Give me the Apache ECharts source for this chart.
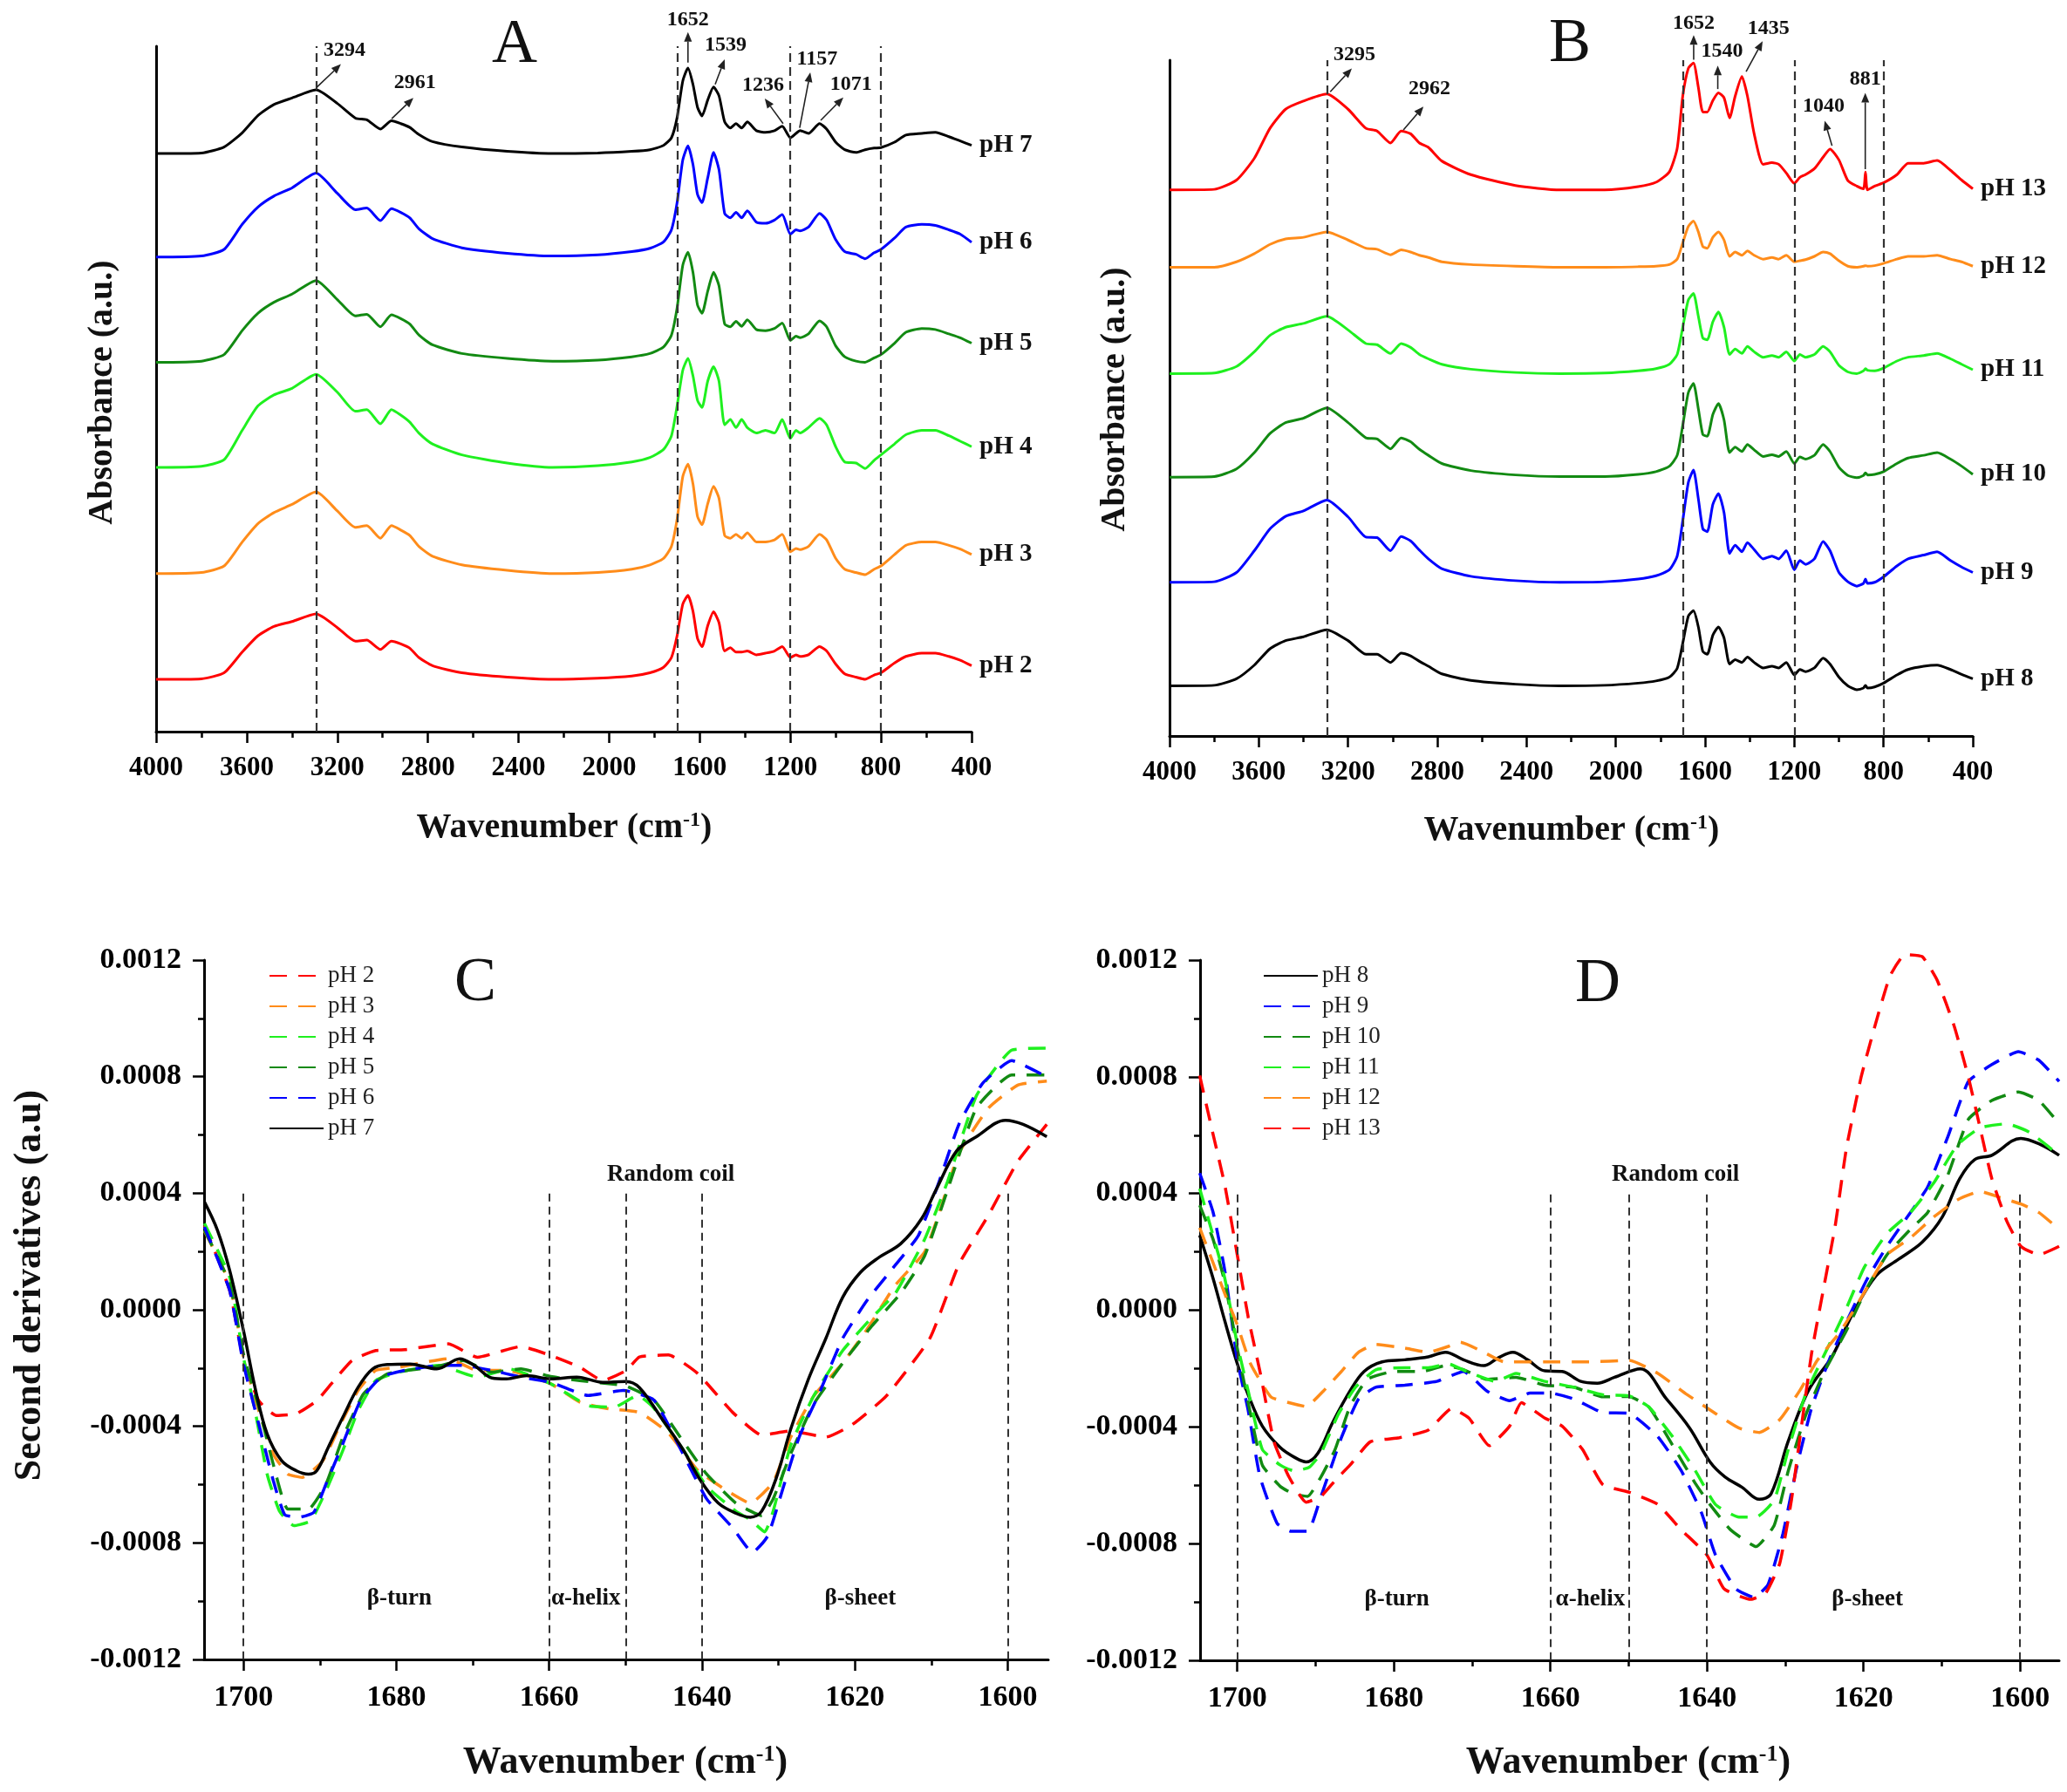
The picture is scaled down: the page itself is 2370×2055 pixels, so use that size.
<!DOCTYPE html>
<html><head><meta charset="utf-8">
<script src="https://cdn.jsdelivr.net/npm/echarts@6/dist/echarts.min.js"></script>
<style>html,body{margin:0;padding:0;background:#fff}#chart{width:2370px;height:2055px}</style>
</head><body><div id="chart"></div>
<script>
const F = 'Liberation Serif';
// ---------- Panel A (pH 2-7), stacked FTIR spectra, arbitrary units ----------
const wnA = [4000,3800,3700,3620,3550,3480,3400,3294,3200,3120,3070,3010,2961,2920,2880,2840,2780,2650,2450,2250,2050,1900,1820,1760,1725,1700,1675,1652,1630,1610,1590,1565,1539,1515,1490,1465,1440,1415,1390,1350,1310,1270,1236,1200,1175,1157,1120,1071,1040,1000,960,910,870,830,800,740,690,620,560,500,450,400];
const absA_pH7 = [1061,1062,1073,1099,1131,1151,1163,1178,1153,1126,1123,1106,1121,1116,1109,1096,1083,1073,1065,1061,1062,1065,1068,1076,1090,1127,1194,1218,1188,1146,1130,1159,1183,1167,1119,1108,1116,1108,1119,1103,1100,1103,1111,1090,1098,1103,1098,1116,1106,1082,1068,1063,1068,1071,1072,1082,1095,1098,1100,1092,1084,1076];
const absA_pH6 = [871,873,885,931,963,983,998,1025,988,958,961,938,960,953,943,923,905,888,878,873,875,881,887,899,921,971,1049,1075,1041,986,971,1016,1063,1031,951,943,953,943,956,935,933,939,949,913,921,919,926,951,939,903,881,876,868,879,885,906,926,931,929,921,913,898];
const absA_pH5 = [678,680,692,736,768,788,803,828,793,763,766,743,765,758,748,728,710,694,685,680,682,688,694,706,728,778,856,880,843,783,768,808,843,818,748,743,753,744,756,738,736,740,750,718,726,723,730,754,743,708,688,680,678,686,692,713,733,740,738,730,723,713];
const absA_pH4 = [485,487,499,553,598,618,630,656,623,588,591,565,591,581,568,548,528,508,493,485,488,495,503,518,543,598,663,685,653,608,595,643,670,643,563,573,558,573,558,548,553,548,573,538,553,548,558,575,563,523,495,493,483,498,508,528,545,553,553,543,533,523];
const absA_pH3 = [290,292,304,348,382,402,417,440,405,375,378,355,378,370,360,340,322,306,296,290,292,298,306,318,340,390,468,491,455,395,380,418,450,428,360,355,362,355,365,348,348,352,362,330,336,334,340,362,352,318,298,292,288,298,304,325,342,348,348,342,335,325];
const absA_pH2 = [96,97,108,146,176,193,202,216,191,166,168,151,166,161,153,136,121,108,100,96,98,102,108,118,136,176,234,250,221,171,156,194,220,200,148,154,146,146,148,141,144,148,156,136,141,138,141,156,148,124,106,100,96,104,108,126,138,144,144,138,131,121];
// ---------- Panel B (pH 8-13) ----------
const wnB = [4000,3800,3700,3620,3550,3480,3400,3295,3200,3120,3070,3010,2962,2920,2880,2840,2780,2650,2450,2250,2050,1900,1820,1760,1725,1700,1675,1652,1630,1610,1590,1565,1540,1515,1490,1465,1435,1410,1380,1340,1300,1270,1236,1200,1175,1150,1110,1071,1040,1000,960,920,890,881,872,840,800,740,690,620,560,500,450,400];
const absB_pH13 = [1002,1003,1020,1060,1115,1150,1165,1178,1150,1115,1110,1088,1110,1105,1088,1080,1055,1030,1010,1002,1002,1008,1016,1035,1078,1174,1225,1235,1190,1145,1145,1166,1180,1171,1134,1174,1210,1174,1105,1049,1052,1049,1033,1014,1025,1030,1041,1062,1077,1057,1019,1009,1004,1035,1002,1009,1015,1030,1051,1051,1056,1038,1020,1004];
const absB_pH12 = [860,860,870,885,902,912,915,925,910,895,893,883,892,888,882,878,870,865,862,860,860,861,862,865,875,905,935,945,925,898,895,915,925,910,880,888,882,890,882,875,878,875,882,870,872,874,880,888,885,872,862,860,862,863,862,863,867,875,880,880,882,875,870,862];
const absB_pH11 = [665,666,678,705,735,750,757,770,745,720,718,702,720,713,700,692,682,673,667,665,666,670,674,682,700,750,800,812,770,730,727,760,778,750,700,710,702,715,705,695,698,695,705,688,700,695,700,715,705,680,668,665,670,674,671,670,675,688,695,698,702,692,682,672];
const absB_pH10 = [475,476,490,520,555,575,583,602,575,547,545,527,547,540,526,515,500,487,479,476,476,480,485,495,515,570,630,647,600,553,550,590,610,580,520,530,522,535,525,513,516,513,522,500,512,508,515,535,522,493,478,474,478,483,479,480,485,500,510,515,520,508,495,480];
const absB_pH9 = [282,283,300,340,380,403,413,433,402,365,364,340,366,358,341,325,307,293,285,282,283,288,294,305,330,395,465,488,435,380,375,425,445,410,335,350,338,355,342,325,330,325,340,305,322,315,325,357,340,300,283,275,280,288,280,282,292,312,325,332,338,322,310,300];
const absB_pH8 = [92,93,105,130,160,175,182,195,175,150,150,135,152,147,137,128,114,102,95,92,93,97,101,108,124,170,220,230,200,155,150,185,200,180,132,140,135,145,135,125,128,125,135,112,122,118,125,143,132,108,92,85,88,93,88,90,97,112,122,128,130,122,113,105];
// ---------- Panel C: second derivatives, pH 2-7 ([wavenumber, value]) ----------
const derC_pH2 = [[1705.1,2.9e-4],[1701.8,0.66e-4],[1700,-1.74e-4],[1698,-3.12e-4],[1695.7,-3.63e-4],[1693.1,-3.57e-4],[1690.4,-3.12e-4],[1688.5,-2.54e-4],[1685.8,-1.74e-4],[1682.7,-1.4e-4],[1678.9,-1.37e-4],[1673.2,-1.17e-4],[1669.4,-1.63e-4],[1663.7,-1.26e-4],[1659.8,-1.57e-4],[1656,-1.97e-4],[1653,-2.43e-4],[1649.9,-2.08e-4],[1648.2,-1.62e-4],[1644.4,-1.55e-4],[1640.6,-2.18e-4],[1636,-3.52e-4],[1632.2,-4.3e-4],[1628.4,-4.16e-4],[1623.8,-4.37e-4],[1620.4,-3.95e-4],[1615.9,-2.96e-4],[1610.2,-0.98e-4],[1606.4,1.56e-4],[1602.5,3.26e-4],[1598.7,5.09e-4],[1594.9,6.36e-4]];
const derC_pH3 = [[1705.1,2.7e-4],[1701.8,0.9e-4],[1700,-1.63e-4],[1698,-3.46e-4],[1696.1,-4.95e-4],[1694.2,-5.64e-4],[1692.3,-5.75e-4],[1689.6,-5.18e-4],[1687.3,-3.92e-4],[1685,-2.77e-4],[1682.7,-2.08e-4],[1679.7,-1.97e-4],[1673.2,-1.68e-4],[1669.4,-2.08e-4],[1665.6,-2.08e-4],[1659.8,-2.54e-4],[1656,-3.17e-4],[1652.2,-3.4e-4],[1648.2,-3.52e-4],[1644.4,-4.23e-4],[1640.6,-5.5e-4],[1636.8,-6.2e-4],[1633.7,-6.64e-4],[1630.7,-5.92e-4],[1628.4,-4.37e-4],[1625.4,-2.96e-4],[1621.6,-1.83e-4],[1618.5,-0.7e-4],[1614.7,0.85e-4],[1610.9,1.98e-4],[1609,3.3e-4],[1606.4,5.37e-4],[1602.5,6.93e-4],[1598.7,7.71e-4],[1594.9,7.85e-4]];
const derC_pH4 = [[1705.1,2.96e-4],[1701.8,1.12e-4],[1700,-1.63e-4],[1698.4,-3.57e-4],[1696.9,-5.64e-4],[1695.3,-6.9e-4],[1693.4,-7.41e-4],[1691.2,-7.24e-4],[1689.2,-6.21e-4],[1687,-4.83e-4],[1685,-3.46e-4],[1682.7,-2.43e-4],[1679.7,-2.14e-4],[1674.4,-1.91e-4],[1669.4,-2.31e-4],[1665.2,-2.03e-4],[1659.8,-2.54e-4],[1654.9,-3.29e-4],[1651.5,-3.34e-4],[1648.4,-2.94e-4],[1646.3,-3.38e-4],[1642.5,-4.79e-4],[1639.4,-6.06e-4],[1635.6,-6.91e-4],[1633.7,-7.2e-4],[1631.8,-7.62e-4],[1630.7,-6.91e-4],[1628.4,-4.65e-4],[1625.4,-2.96e-4],[1621.6,-1.4e-4],[1617.8,-0.27e-4],[1614.7,0.57e-4],[1610.9,2.41e-4],[1607.9,4.39e-4],[1604.1,7.35e-4],[1599.5,8.91e-4],[1594.9,8.98e-4]];
const derC_pH5 = [[1705.1,2.73e-4],[1701.8,0.9e-4],[1700,-1.51e-4],[1698,-3.34e-4],[1696.1,-5.3e-4],[1694.2,-6.84e-4],[1691.5,-6.84e-4],[1689.2,-5.98e-4],[1687,-4.38e-4],[1684.3,-2.89e-4],[1681.2,-2.2e-4],[1675.1,-1.97e-4],[1671.3,-1.74e-4],[1667.5,-2.14e-4],[1663.7,-2.03e-4],[1659.8,-2.29e-4],[1656,-2.43e-4],[1652.2,-2.54e-4],[1650,-2.61e-4],[1646.3,-3.1e-4],[1642.5,-4.51e-4],[1639.4,-5.64e-4],[1635.6,-6.63e-4],[1632.2,-7.06e-4],[1630.7,-6.49e-4],[1628.4,-4.94e-4],[1625.4,-3.24e-4],[1621.6,-1.83e-4],[1617.8,-0.56e-4],[1614,0.57e-4],[1610.9,1.84e-4],[1607.9,4.1e-4],[1604.1,6.93e-4],[1599.5,8.06e-4],[1594.9,8.06e-4]];
const derC_pH6 = [[1705.1,2.84e-4],[1701.8,0.66e-4],[1700,-1.86e-4],[1698,-3.92e-4],[1696.1,-5.86e-4],[1694.6,-7.03e-4],[1692.7,-7.12e-4],[1690.8,-6.95e-4],[1689.2,-5.98e-4],[1687,-4.6e-4],[1684.7,-3.12e-4],[1682,-2.31e-4],[1678.9,-2.08e-4],[1674.4,-1.91e-4],[1671.3,-1.91e-4],[1667.5,-2.08e-4],[1663.7,-2.31e-4],[1659.8,-2.49e-4],[1654.9,-2.94e-4],[1650.3,-2.77e-4],[1646.3,-3.1e-4],[1642.5,-4.94e-4],[1639.4,-6.49e-4],[1636,-7.48e-4],[1633.4,-8.33e-4],[1631.4,-7.76e-4],[1629.5,-6.2e-4],[1627.3,-4.37e-4],[1624.6,-2.82e-4],[1621.6,-0.98e-4],[1618.5,0.29e-4],[1615.5,1.28e-4],[1611.7,2.55e-4],[1609,4.39e-4],[1606.4,6.36e-4],[1603.3,7.77e-4],[1599.5,8.55e-4],[1594.9,7.99e-4]];
const derC_pH7 = [[1705.1,3.7e-4],[1703.4,2.73e-4],[1701.8,1.35e-4],[1700,-0.71e-4],[1698.4,-2.77e-4],[1696.9,-4.26e-4],[1695,-5.18e-4],[1693.1,-5.52e-4],[1691.5,-5.64e-4],[1690.4,-5.52e-4],[1688.9,-4.72e-4],[1687,-3.69e-4],[1685,-2.66e-4],[1683.1,-2.03e-4],[1681.2,-1.88e-4],[1678.2,-1.86e-4],[1674.7,-2.03e-4],[1671.7,-1.68e-4],[1669.8,-1.91e-4],[1667.5,-2.34e-4],[1665.6,-2.37e-4],[1662.9,-2.26e-4],[1659.8,-2.37e-4],[1656.4,-2.31e-4],[1653,-2.49e-4],[1650,-2.46e-4],[1648.2,-2.67e-4],[1645.1,-3.8e-4],[1642.5,-4.79e-4],[1640.2,-5.86e-4],[1637.9,-6.63e-4],[1635.6,-6.98e-4],[1633.7,-7.12e-4],[1632.2,-6.91e-4],[1630.3,-5.78e-4],[1628.4,-4.09e-4],[1626.1,-2.39e-4],[1623.8,-0.98e-4],[1621.6,0.43e-4],[1619.3,1.28e-4],[1617,1.77e-4],[1614,2.27e-4],[1611.3,3.12e-4],[1609.4,4.11e-4],[1606.7,5.45e-4],[1604.1,5.94e-4],[1600.3,6.5e-4],[1598,6.36e-4],[1594.9,5.94e-4]];
// ---------- Panel D: second derivatives, pH 8-13 ----------
const derD_pH8 = [[1704.8,2.57e-4],[1703.1,1.1e-4],[1701.6,-0.36e-4],[1700,-1.83e-4],[1698.6,-2.9e-4],[1696.8,-3.97e-4],[1694.5,-4.71e-4],[1692.7,-5.04e-4],[1691.2,-5.2e-4],[1689.7,-4.9e-4],[1687.8,-3.84e-4],[1685.6,-2.77e-4],[1683.8,-2.1e-4],[1681.5,-1.77e-4],[1678.6,-1.7e-4],[1675.6,-1.6e-4],[1673.4,-1.44e-4],[1671.1,-1.7e-4],[1668.5,-1.9e-4],[1666.7,-1.64e-4],[1664.8,-1.44e-4],[1662.9,-1.7e-4],[1660.7,-2.08e-4],[1658.5,-2.1e-4],[1656.2,-2.43e-4],[1654,-2.5e-4],[1651.8,-2.3e-4],[1648.5,-2.01e-4],[1645.2,-3.03e-4],[1642.2,-4.04e-4],[1639.6,-5.2e-4],[1637.7,-5.71e-4],[1635.5,-6.07e-4],[1633.3,-6.48e-4],[1631.8,-6.29e-4],[1629.6,-4.48e-4],[1627,-2.74e-4],[1624,-1.58e-4],[1621.4,-0.13e-4],[1618.4,1.18e-4],[1615.5,1.75e-4],[1612.5,2.33e-4],[1609.9,3.21e-4],[1607.7,4.51e-4],[1605.8,5.16e-4],[1603.6,5.31e-4],[1599.9,5.89e-4],[1597.3,5.67e-4],[1595,5.31e-4]];
const derD_pH9 = [[1704.8,4.7e-4],[1703.1,3.37e-4],[1701.6,1.37e-4],[1700,-1.7e-4],[1698.6,-3.44e-4],[1697.1,-5.71e-4],[1694.9,-7.31e-4],[1693.1,-7.58e-4],[1691,-7.58e-4],[1689.3,-6.38e-4],[1686.7,-4.37e-4],[1684.5,-3.04e-4],[1682.3,-2.64e-4],[1678.6,-2.57e-4],[1674.5,-2.44e-4],[1671.1,-2.1e-4],[1668.1,-2.77e-4],[1665.2,-3.1e-4],[1662.6,-2.84e-4],[1660,-2.84e-4],[1657,-3.04e-4],[1653.3,-3.51e-4],[1650,-3.53e-4],[1646.3,-4.33e-4],[1643.3,-5.49e-4],[1640.7,-6.94e-4],[1638.9,-8.39e-4],[1636.3,-9.55e-4],[1634,-9.84e-4],[1632.2,-9.41e-4],[1630.3,-7.67e-4],[1628.5,-5.35e-4],[1626.6,-3.32e-4],[1624.4,-1.72e-4],[1622.2,-0.42e-4],[1619.6,1.03e-4],[1617,2.19e-4],[1614,3.35e-4],[1611.8,4.22e-4],[1609.2,5.96e-4],[1606.6,7.84e-4],[1603.6,8.42e-4],[1600.2,8.86e-4],[1597.6,8.57e-4],[1595,7.84e-4]];
const derD_pH10 = [[1704.8,3.6e-4],[1703.1,2.44e-4],[1701.6,0.97e-4],[1700,-1.3e-4],[1698.6,-3.17e-4],[1696.8,-5.31e-4],[1694.5,-6.04e-4],[1692.7,-6.31e-4],[1691,-6.38e-4],[1689.3,-5.71e-4],[1687.5,-4.77e-4],[1685.6,-3.3e-4],[1683.4,-2.37e-4],[1680,-2.1e-4],[1676.3,-2.1e-4],[1673.4,-1.9e-4],[1671.1,-2.04e-4],[1668.1,-2.37e-4],[1664.4,-2.3e-4],[1660.7,-2.57e-4],[1657,-2.64e-4],[1653.3,-2.97e-4],[1650,-2.96e-4],[1647.4,-3.32e-4],[1644.4,-4.62e-4],[1641.5,-5.93e-4],[1639.6,-6.66e-4],[1637,-7.52e-4],[1633.7,-8.1e-4],[1631.4,-7.37e-4],[1629.6,-5.5e-4],[1627.4,-3.61e-4],[1625.1,-2.16e-4],[1622.2,-0.71e-4],[1619.6,0.74e-4],[1617,1.9e-4],[1614,2.77e-4],[1611.8,3.35e-4],[1609.2,4.65e-4],[1606.6,6.54e-4],[1603.6,7.19e-4],[1600.2,7.48e-4],[1597.6,7.19e-4],[1595,6.39e-4]];
const derD_pH11 = [[1704.8,4.17e-4],[1703.1,2.57e-4],[1701.6,1.1e-4],[1700,-1.17e-4],[1698.6,-2.77e-4],[1696.8,-4.77e-4],[1694.5,-5.31e-4],[1692.7,-5.51e-4],[1690.8,-5.38e-4],[1689.3,-4.9e-4],[1687.1,-3.57e-4],[1684.9,-2.64e-4],[1682.3,-2.04e-4],[1678.6,-1.97e-4],[1675.6,-1.97e-4],[1673,-1.84e-4],[1670.7,-2.1e-4],[1667,-2.44e-4],[1664.4,-2.17e-4],[1660.7,-2.44e-4],[1657,-2.64e-4],[1653.3,-2.9e-4],[1650,-2.93e-4],[1647.4,-3.32e-4],[1644.4,-4.33e-4],[1641.5,-5.49e-4],[1638.9,-6.66e-4],[1635.9,-7.09e-4],[1633.7,-7.09e-4],[1631.4,-6.51e-4],[1629.6,-4.77e-4],[1627.4,-2.88e-4],[1625.1,-1.58e-4],[1622.5,-0.13e-4],[1619.9,1.47e-4],[1617,2.63e-4],[1614,3.35e-4],[1611,4.37e-4],[1608,5.67e-4],[1605.1,6.25e-4],[1601.7,6.39e-4],[1598.8,6.1e-4],[1595,5.31e-4]];
const derD_pH12 = [[1704.8,2.83e-4],[1703.1,1.63e-4],[1701.6,0.57e-4],[1700,-0.5e-4],[1698.3,-1.84e-4],[1695.7,-2.97e-4],[1693.4,-3.17e-4],[1691.2,-3.3e-4],[1689,-2.77e-4],[1686.7,-2.1e-4],[1684.5,-1.44e-4],[1682.3,-1.17e-4],[1678.6,-1.3e-4],[1675.6,-1.44e-4],[1673,-1.24e-4],[1671.5,-1.1e-4],[1668.5,-1.44e-4],[1665.9,-1.77e-4],[1662.6,-1.77e-4],[1660,-1.77e-4],[1655.1,-1.77e-4],[1649.9,-1.72e-4],[1646.3,-2.16e-4],[1642.6,-2.88e-4],[1638.9,-3.54e-4],[1635.9,-4.04e-4],[1633.3,-4.19e-4],[1630.7,-3.75e-4],[1628.1,-2.74e-4],[1625.9,-1.72e-4],[1622.9,-0.71e-4],[1619.9,0.6e-4],[1617,1.9e-4],[1614,2.48e-4],[1611,3.2e-4],[1608,3.78e-4],[1605.1,4.07e-4],[1602.5,3.86e-4],[1599.9,3.64e-4],[1597.6,3.35e-4],[1595,2.77e-4]];
const derD_pH13 = [[1704.8,8.04e-4],[1703.1,6.04e-4],[1701.6,4.3e-4],[1700,1.9e-4],[1698.6,-0.24e-4],[1697.1,-2.1e-4],[1695.3,-4.51e-4],[1693.4,-5.71e-4],[1691.2,-6.58e-4],[1689.3,-6.38e-4],[1687.5,-5.84e-4],[1685.6,-5.31e-4],[1683,-4.51e-4],[1679.3,-4.37e-4],[1675.6,-4.11e-4],[1672.6,-3.37e-4],[1670.4,-3.7e-4],[1667.8,-4.64e-4],[1665.2,-3.97e-4],[1663.7,-3.17e-4],[1660.7,-3.7e-4],[1658.5,-3.97e-4],[1655.9,-4.77e-4],[1653.3,-5.98e-4],[1649.9,-6.24e-4],[1646.3,-6.65e-4],[1643.3,-7.52e-4],[1640,-8.39e-4],[1637.8,-9.55e-4],[1634.4,-9.91e-4],[1632.5,-9.7e-4],[1630.7,-8.68e-4],[1629.2,-6.51e-4],[1628.1,-4.33e-4],[1626.6,-1.43e-4],[1625.1,0.74e-4],[1623.6,2.91e-4],[1622.2,5.52e-4],[1620.3,7.99e-4],[1618.4,9.87e-4],[1616.6,11.46e-4],[1614.7,12.19e-4],[1612.5,12.12e-4],[1610.6,11.32e-4],[1608.4,9.73e-4],[1606.6,7.99e-4],[1605.1,6.25e-4],[1603.6,4.51e-4],[1601.7,3.06e-4],[1599.9,2.19e-4],[1597.6,1.9e-4],[1595,2.19e-4]];
// ---------- reference lines, ticks, annotations ----------
const refLinesA = [3294, 1700, 1200, 800];
const refLinesB = [3295, 1700, 1200, 800];
const refLinesCD = [1700, 1660, 1650, 1640, 1600];
const majorTicksCD = [1600, 1620, 1640, 1660, 1680, 1700];
const minorTicksCD = [1610, 1630, 1650, 1670, 1690];
const peaksA = [
  {text:'3294', from:[3290,1183], to:[3184,1225], at:[3168,1251]},
  {text:'2961', from:[2960,1125], to:[2864,1163], at:[2857,1191]},
  {text:'1652', from:[1652,1228], to:[1652,1284], at:[1652,1306]},
  {text:'1539', from:[1532,1188], to:[1490,1234], at:[1486,1260]},
  {text:'1236', from:[1232,1116], to:[1313,1162], at:[1320,1186]},
  {text:'1157', from:[1159,1108], to:[1112,1210], at:[1082,1234]},
  {text:'1071', from:[1066,1122], to:[966,1164], at:[932,1188]}
];
const peaksB = [
  {text:'3295', from:[3280,1182], to:[3183,1225], at:[3171,1250]},
  {text:'2962', from:[2952,1112], to:[2862,1155], at:[2835,1188]},
  {text:'1652', from:[1651,1241], to:[1651,1286], at:[1651,1308]},
  {text:'1540', from:[1543,1187], to:[1543,1230], at:[1524,1257]},
  {text:'1435', from:[1416,1219], to:[1342,1275], at:[1316,1298]},
  {text:'1040', from:[1031,1083], to:[1064,1129], at:[1068,1155]},
  {text:'881', from:[882,1040], to:[882,1180], at:[882,1205]}
];
const regionsC = [{text:'Random coil', at:[1644.1, 4.65e-4]},{text:'β-turn', at:[1679.6,-9.9e-4]},{text:'α-helix', at:[1655.2,-9.9e-4]},{text:'β-sheet', at:[1619.3,-9.9e-4]}];
const regionsD = [{text:'Random coil', at:[1644, 4.66e-4]},{text:'β-turn', at:[1679.6,-9.9e-4]},{text:'α-helix', at:[1654.9,-9.9e-4]},{text:'β-sheet', at:[1619.5,-9.9e-4]}];

const C = {red:'#ff0000', orange:'#ff8c1a', lime:'#1ff01f', green:'#128a12', blue:'#0000ff', black:'#000000'};

const chart = echarts.init(document.getElementById('chart'), null, {renderer:'canvas'});

const specSeries = [];
function spec(name, label, color, wn, vals, ax, extra) {
  const s = Object.assign({
    type:'line', name, xAxisIndex:ax, yAxisIndex:ax, symbol:'none', smooth:0.2, silent:true,
    data: wn.map((w,i)=>[w, vals[i]]),
    lineStyle:{color, width:3}, itemStyle:{color}
  }, extra || {});
  specSeries.push({label, ax, last: s.data[s.data.length-1]});
  return s;
}
function deriv(name, color, pts, xi, yi, dashed, extra) {
  return Object.assign({
    type:'line', name, xAxisIndex:xi, yAxisIndex:yi, symbol:'none', smooth: dashed ? 0.15 : 0.35, clip:false, silent:true,
    data: pts, lineStyle:{color, width:3.5, type: dashed ? [20,13] : 'solid'}, itemStyle:{color}
  }, extra || {});
}
const vmarkAB = (lines) => ({silent:true, symbol:'none', animation:false, label:{show:false},
  lineStyle:{color:'#333', width:2.2, type:[10,6]}, data: lines.map(v=>({xAxis:v}))});
const vmarkCD = {silent:true, symbol:'none', animation:false, label:{show:false},
  lineStyle:{color:'#333', width:2, type:[9,6]}, data: refLinesCD.map(v=>[{coord:[v,-0.001199]},{coord:[v,0.0004]}])};

const axisLineStyle = {show:true, onZero:false, lineStyle:{color:'#000', width:3}};
const tickStyle = {color:'#000', width:2.5};
const plain = v => String(Math.round(v));
function specX(grid) {
  return {type:'value', gridIndex:grid, min:400, max:4000, interval:400, inverse:true, position:'bottom',
    axisLine:axisLineStyle, axisTick:{show:true, inside:false, length:13, lineStyle:tickStyle},
    minorTick:{show:true, splitNumber:2, length:7, lineStyle:tickStyle},
    axisLabel:{fontFamily:F, fontWeight:'bold', fontSize:31, color:'#000', margin:26, formatter:plain},
    splitLine:{show:false}, minorSplitLine:{show:false}};
}
function specY(grid, max) {
  return {type:'value', gridIndex:grid, min:0, max, axisLine:{show:true, onZero:false, lineStyle:{color:'#000', width:3}},
    axisTick:{show:false}, axisLabel:{show:false}, splitLine:{show:false}};
}
function derX(grid, min, max) {
  return {type:'value', gridIndex:grid, min, max, inverse:true, position:'bottom',
    axisLine:axisLineStyle, axisTick:{show:true, length:13, lineStyle:tickStyle, customValues:majorTicksCD},
    axisLabel:{customValues:majorTicksCD, fontFamily:F, fontWeight:'bold', fontSize:34, color:'#000', margin:27, formatter:plain},
    splitLine:{show:false}};
}
function derXminor(grid, min, max) {
  return {type:'value', gridIndex:grid, min, max, inverse:true, position:'bottom', offset:0,
    axisLine:{show:false, onZero:false}, axisTick:{show:true, length:7, lineStyle:tickStyle, customValues:minorTicksCD},
    axisLabel:{show:false}, splitLine:{show:false}};
}
function derY(grid) {
  return {type:'value', gridIndex:grid, min:-0.0012, max:0.0012, interval:0.0004,
    axisLine:{show:true, onZero:false, lineStyle:{color:'#000', width:3}},
    axisTick:{show:true, length:13, lineStyle:tickStyle},
    minorTick:{show:true, splitNumber:2, length:7, lineStyle:tickStyle},
    axisLabel:{fontFamily:F, fontWeight:'bold', fontSize:34, color:'#000', margin:26,
      formatter:v=>v.toFixed(4)},
    splitLine:{show:false}, minorSplitLine:{show:false}};
}

const legendText = {fontFamily:F, fontSize:27, color:'#222', lineHeight:28};
const legendItem = {color:'transparent', borderColor:'transparent', borderWidth:0, opacity:0};
const option = {
  animation:false,
  backgroundColor:'#fff',
  textStyle:{fontFamily:F},
  grid:[
    {left:179, right:1256, top:53, bottom:1216},
    {left:1341, right:108, top:69, bottom:1211},
    {left:234, right:1168, top:1101, bottom:152},
    {left:1376, right:9, top:1101, bottom:151}
  ],
  xAxis:[specX(0), specX(1), derX(2,1594.7,1705.15), derXminor(2,1594.7,1705.15), derX(3,1595,1704.75), derXminor(3,1595,1704.75)],
  yAxis:[specY(0,1258), specY(1,1240), derY(2), derY(3)],
  legend:[
    {data:['pH 2','pH 3','pH 4','pH 5','pH 6','pH 7'], orient:'vertical', left:303, top:1100, itemWidth:62, itemHeight:14, itemGap:7, textStyle:legendText, itemStyle:legendItem, selectedMode:false},
    {data:['pH 8','pH 9','pH 10','pH 11','pH 12','pH 13'], orient:'vertical', left:1443, top:1100, itemWidth:62, itemHeight:14, itemGap:7, textStyle:legendText, itemStyle:legendItem, selectedMode:false}
  ],
  series:[
    spec('A pH 7','pH 7',C.black,wnA,absA_pH7,0,{markLine:vmarkAB(refLinesA)}),
    spec('A pH 6','pH 6',C.blue,wnA,absA_pH6,0),
    spec('A pH 5','pH 5',C.green,wnA,absA_pH5,0),
    spec('A pH 4','pH 4',C.lime,wnA,absA_pH4,0),
    spec('A pH 3','pH 3',C.orange,wnA,absA_pH3,0),
    spec('A pH 2','pH 2',C.red,wnA,absA_pH2,0),
    spec('B pH 13','pH 13',C.red,wnB,absB_pH13,1,{markLine:vmarkAB(refLinesB)}),
    spec('B pH 12','pH 12',C.orange,wnB,absB_pH12,1),
    spec('B pH 11','pH 11',C.lime,wnB,absB_pH11,1),
    spec('B pH 10','pH 10',C.green,wnB,absB_pH10,1),
    spec('B pH 9','pH 9',C.blue,wnB,absB_pH9,1),
    spec('B pH 8','pH 8',C.black,wnB,absB_pH8,1),
    deriv('pH 2',C.red,derC_pH2,2,2,true,{markLine:vmarkCD}),
    deriv('pH 3',C.orange,derC_pH3,2,2,true),
    deriv('pH 4',C.lime,derC_pH4,2,2,true),
    deriv('pH 5',C.green,derC_pH5,2,2,true),
    deriv('pH 6',C.blue,derC_pH6,2,2,true),
    deriv('pH 7',C.black,derC_pH7,2,2,false),
    deriv('pH 8',C.black,derD_pH8,4,3,false,{markLine:vmarkCD}),
    deriv('pH 9',C.blue,derD_pH9,4,3,true),
    deriv('pH 10',C.green,derD_pH10,4,3,true),
    deriv('pH 11',C.lime,derD_pH11,4,3,true),
    deriv('pH 12',C.orange,derD_pH12,4,3,true),
    deriv('pH 13',C.red,derD_pH13,4,3,true)
  ]
};
chart.setOption(option);

// ---------- overlay text & arrows positioned through the axes' scales ----------
const g = [];
const toPx = (xi, yi, pt) => chart.convertToPixel({xAxisIndex:xi, yAxisIndex:yi}, pt);
function text(x, y, t, size, weight, extra, styleExtra) {
  g.push(Object.assign({type:'text', x, y, silent:true, z:50,
    style:Object.assign({text:t, fontFamily:F, fontSize:size, fontWeight:weight, fill:'#111', align:'center', verticalAlign:'middle'}, styleExtra || {})}, extra || {}));
}
function arrow(p0, p1) {
  const dx = p1[0]-p0[0], dy = p1[1]-p0[1], L = Math.hypot(dx,dy), ux = dx/L, uy = dy/L;
  const hl = 11, hw = 4.5, b = [p1[0]-ux*hl, p1[1]-uy*hl];
  g.push({type:'line', silent:true, z:50, shape:{x1:p0[0],y1:p0[1],x2:b[0],y2:b[1]}, style:{stroke:'#222', lineWidth:1.6}});
  g.push({type:'polygon', silent:true, z:50, shape:{points:[p1,[b[0]-uy*hw,b[1]+ux*hw],[b[0]+uy*hw,b[1]-ux*hw]]}, style:{fill:'#222'}});
}
function peaks(list, ax) {
  list.forEach(p => {
    arrow(toPx(ax,ax,p.from), toPx(ax,ax,p.to));
    const t = toPx(ax,ax,p.at);
    text(t[0], t[1], p.text, 24, 'bold');
  });
}
peaks(peaksA, 0);
peaks(peaksB, 1);
// spectrum labels at the end of each curve
specSeries.forEach(s => {
  const p = toPx(s.ax, s.ax, s.last);
  text(p[0] + 9, p[1], s.label, 29, 'bold', null, {align:'left'});
});
regionsC.forEach(r => { const p = toPx(2,2,r.at); text(p[0], p[1], r.text, 27, 'bold'); });
regionsD.forEach(r => { const p = toPx(4,3,r.at); text(p[0], p[1], r.text, 27, 'bold'); });

// panel letters
text(590, 52, 'A', 72, 'normal');
text(1800, 51, 'B', 72, 'normal');
text(545, 1128, 'C', 72, 'normal');
text(1832, 1129, 'D', 72, 'normal');
// axis titles
function wavTitle(x, y, size) {
  g.push({type:'text', x, y, silent:true, z:50, style:{
    text:'{n|Wavenumber (cm}{s|-1}{n|)}', align:'center', verticalAlign:'middle', fill:'#111',
    rich:{n:{fontFamily:F, fontSize:size, fontWeight:'bold', fill:'#111'},
          s:{fontFamily:F, fontSize:Math.round(size*0.6), fontWeight:'bold', fill:'#111', padding:[0,0,Math.round(size*0.45),0]}}}});
}
wavTitle(647, 950, 40);
wavTitle(1802, 953, 40);
wavTitle(717, 2022, 44);
wavTitle(1867, 2022, 44);
text(118, 450, 'Absorbance (a.u.)', 40, 'bold', {rotation:Math.PI/2});
text(1279, 458, 'Absorbance (a.u.)', 40, 'bold', {rotation:Math.PI/2});
text(35, 1474, 'Second derivatives (a.u)', 44, 'bold', {rotation:Math.PI/2});

chart.setOption({graphic:g});
</script></body></html>
